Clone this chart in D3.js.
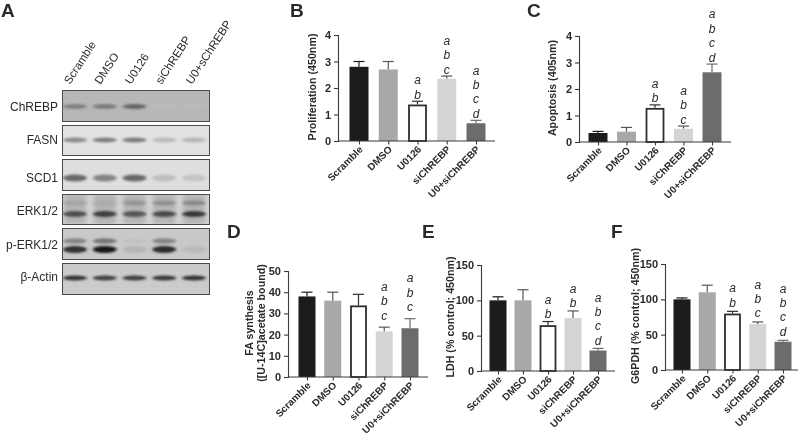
<!DOCTYPE html>
<html><head><meta charset="utf-8">
<script src="https://cdn.jsdelivr.net/npm/d3@7"></script>
<style>
html,body{margin:0;padding:0;background:#fff}
svg{display:block;filter:blur(0.45px)}
text{font-family:"Liberation Sans",Arial,sans-serif;fill:#2a2a2a}
</style></head><body><svg id="c" width="800" height="435"></svg>
<script>
const categories=["Scramble","DMSO","U0126","siChREBP","U0+siChREBP"];
const barColors=["#1c1b1d","#a8a8a8","#ffffff","#d4d4d4","#6c6c6c"];

const bValues=[2.8,2.7,1.38,2.35,0.67], bErrors=[0.2,0.3,0.12,0.1,0.11], bLetters=["","","ab","abc","abcd"];
const cValues=[0.34,0.39,1.29,0.5,2.63], cErrors=[0.06,0.16,0.11,0.1,0.31], cLetters=["","","ab","abc","abcd"];
const dValues=[38,36,33.8,21.5,23], dErrors=[2,4,5.2,2,4.5], dLetters=["","","","abc","abc"];
const eValues=[100,100,65,75,29], eErrors=[5,15,5,10,3], eLetters=["","","ab","ab","abcd"];
const fValues=[100,110,80,65,40], fErrors=[2,10,3,3,2], fLetters=["","","ab","abc","abcd"];

const bTicks=[0,1,2,3,4], cTicks=[0,1,2,3,4], dTicks=[0,10,20,30,40,50], eTicks=[0,50,100,150], fTicks=[0,50,100,150];

const blotLanes=["Scramble","DMSO","U0126","siChREBP","U0+sChREBP"];
const chrebpBand=[0.55,0.58,0.68,0.08,0.08];
const fasnBand=[0.55,0.6,0.62,0.3,0.32];
const scd1Band=[0.7,0.58,0.7,0.25,0.2];
const erkUpperBand=[0.3,0.25,0.42,0.45,0.5];
const erkLowerBand=[0.78,0.85,0.75,0.8,0.88];
const perkUpperBand=[0.55,0.62,0.12,0.55,0.05];
const perkLowerBand=[0.9,1,0.25,0.92,0.2];
const actinBand=[0.9,0.85,0.85,0.88,0.9];

const svg=d3.select("#c");
const defs=svg.append("defs");
defs.append("filter").attr("id","bl").attr("x","-30%").attr("y","-100%").attr("width","160%").attr("height","300%")
  .append("feGaussianBlur").attr("stdDeviation","1.5 1.2");
defs.append("filter").attr("id","smear").attr("x","-30%").attr("y","-30%").attr("width","160%").attr("height","160%")
  .append("feGaussianBlur").attr("stdDeviation","2 2");

/* ---------- blot ---------- */
const blotX=d3.scalePoint().domain(blotLanes).range([75,194]);
const labelX=d3.scalePoint().domain(blotLanes).range([70,192]);
const blotPanels=[
 {name:"ChREBP",top:90,bot:121,bg:"#b7b7b7",label:111,bands:[{v:chrebpBand,y:106.5,h:2.6}]},
 {name:"FASN",top:125,bot:155,bg:"#e2e2e2",label:144,bands:[{v:fasnBand,y:140,h:2.6}]},
 {name:"SCD1",top:159,bot:190,bg:"#dedede",label:182,bands:[{v:scd1Band,y:178,h:3.4}]},
 {name:"ERK1/2",top:194,bot:224,bg:"#d2d2d2",label:215,smear:true,bands:[{v:erkUpperBand,y:203,h:2.4},{v:erkLowerBand,y:214,h:3}]},
 {name:"p-ERK1/2",top:228,bot:259,bg:"#c9c9c9",label:249,bands:[{v:perkUpperBand,y:241,h:2.8},{v:perkLowerBand,y:249.5,h:3.4}]},
 {name:"β-Actin",top:263,bot:294,bg:"#cbcbcb",label:281,bands:[{v:actinBand,y:278,h:2.4}]}
];
const dark=d3.scaleLinear().domain([0,1]).range(["#d0d0d0","#141414"]);
blotPanels.forEach(p=>{
  const g=svg.append("g");
  g.append("rect").attr("x",62.5).attr("y",p.top+.5).attr("width",147).attr("height",p.bot-p.top)
    .attr("fill",p.bg).attr("stroke","#4a4a4a").attr("stroke-width",1);
  const clip="clip"+p.top;
  defs.append("clipPath").attr("id",clip).append("rect").attr("x",63).attr("y",p.top+1).attr("width",146).attr("height",p.bot-p.top-1);
  const inner=g.append("g").attr("clip-path",`url(#${clip})`);
  if(p.smear){
    inner.append("g").attr("filter","url(#smear)").selectAll("rect").data(blotLanes).join("rect")
      .attr("x",d=>blotX(d)-11).attr("y",p.top).attr("width",22).attr("height",p.bot-p.top)
      .attr("fill","#b4b4b4");
  }
  p.bands.forEach(b=>{
    inner.append("g").attr("filter","url(#bl)").selectAll("ellipse").data(blotLanes).join("ellipse")
      .attr("cx",d=>blotX(d)).attr("cy",b.y)
      .attr("rx",12).attr("ry",b.h)
      .attr("fill",(d,i)=>dark(b.v[i]))
      .attr("fill-opacity",(d,i)=>0.35+0.65*b.v[i]);
  });
  g.append("text").attr("x",58).attr("y",p.label).attr("text-anchor","end")
    .attr("font-size",12).text(p.name);
});
svg.selectAll(".lane").data(blotLanes).join("text").attr("class","lane")
  .attr("font-size",11.5).attr("text-anchor","start")
  .attr("transform",d=>`translate(${labelX(d)},85) rotate(-57)`).text(d=>d);

/* ---------- bar panels ---------- */
const panels=[
 {v:bValues,e:bErrors,l:bLetters,t:bTicks,max:4,ax:338,top:35,bot:141,x0:359,x1:476,end:495,w:19,gap:6,title:["Proliferation (450nm)"],tx:316},
 {v:cValues,e:cErrors,l:cLetters,t:cTicks,max:4,ax:579,top:36,bot:142,x0:598,x1:712,end:731,w:19,gap:6,title:["Apoptosis (405nm)"],tx:556},
 {v:dValues,e:dErrors,l:dLetters,t:dTicks,max:50,ax:288,top:271,bot:377,x0:307,x1:410,end:428,w:17,gap:11,title:["FA synthesis","([U-14C]acetate bound)"],tx:253},
 {v:eValues,e:eErrors,l:eLetters,t:eTicks,max:150,ax:481,top:265,bot:371,x0:498,x1:598,end:615,w:17,gap:7,title:["LDH (% control; 450nm)"],tx:454},
 {v:fValues,e:fErrors,l:fLetters,t:fTicks,max:150,ax:665,top:264,bot:370,x0:682,x1:783,end:798,w:17,gap:8,title:["G6PDH (% control; 450nm)"],tx:639}
];
const axisColor="#3a3a3a";
panels.forEach(p=>{
  const g=svg.append("g");
  const y=d3.scaleLinear().domain([0,p.max]).range([p.bot,p.top]);
  const x=d3.scalePoint().domain(categories).range([p.x0,p.x1]);
  categories.forEach((c,i)=>{
    const cx=x(c), yTop=y(p.v[i]), yErr=y(p.v[i]+p.e[i]);
    const col=(i===1||i===3)?"#555":(i===2?"#2e2e2e":barColors[i]);
    g.append("line").attr("x1",cx).attr("x2",cx).attr("y1",yTop).attr("y2",yErr).attr("stroke",col).attr("stroke-width",1.2);
    g.append("line").attr("x1",cx-5.5).attr("x2",cx+5.5).attr("y1",yErr).attr("y2",yErr).attr("stroke",col).attr("stroke-width",1.2);
    const inset=i===2?1:0;
    g.append("rect").attr("x",cx-p.w/2+inset).attr("y",yTop+inset).attr("width",p.w-2*inset).attr("height",p.bot-yTop-inset)
      .attr("fill",barColors[i]).attr("stroke",i===2?"#2e2e2e":"none").attr("stroke-width",i===2?1.8:0);
    const ls=p.l[i].split("");
    ls.forEach((ch,k)=>{
      g.append("text").attr("x",cx).attr("y",yErr-p.gap-(ls.length-1-k)*14.4+3.5)
        .attr("text-anchor","middle").attr("font-size",12).attr("font-style","italic").attr("fill","#3c3c3c").text(ch);
    });
  });
  const ya=d3.axisLeft(y).tickValues(p.t).tickSize(4).tickPadding(3).tickFormat(d3.format("d"));
  const yg=g.append("g").attr("transform",`translate(${p.ax},0)`).call(ya);
  yg.select(".domain").attr("stroke",axisColor).attr("stroke-width",1.1);
  yg.selectAll("line").attr("stroke",axisColor).attr("stroke-width",1.1);
  yg.selectAll("text").attr("font-size",11).attr("font-weight","bold").attr("font-family","Liberation Sans");
  const xa=d3.axisBottom(x).tickSize(3.5).tickPadding(3);
  const xg=g.append("g").attr("transform",`translate(0,${p.bot})`).call(xa);
  xg.select(".domain").attr("d",`M${p.ax},0H${p.end}`).attr("stroke",axisColor).attr("stroke-width",1.1);
  xg.selectAll("line").attr("stroke",axisColor).attr("stroke-width",1.1);
  xg.selectAll("text").attr("font-size",10).attr("font-weight","bold").attr("font-family","Liberation Sans")
    .attr("text-anchor","end").attr("dy",0).attr("y",0).attr("x",0)
    .attr("transform","translate(4,9) rotate(-45)");
  p.title.forEach((t,i)=>{
    g.append("text").attr("transform",`translate(${p.tx+i*11.5},${(p.top+p.bot)/2-1}) rotate(-90)`)
      .attr("text-anchor","middle").attr("font-size",10.7).attr("font-weight","bold").text(t);
  });
});

/* ---------- panel letters ---------- */
const panelLetters=["A","B","C","D","E","F"];
const letterPos=[[1,17],[290,17],[527,17],[227,238],[422,238],[611,238]];
svg.selectAll(".pl").data(panelLetters).join("text").attr("class","pl")
  .attr("x",(d,i)=>letterPos[i][0]).attr("y",(d,i)=>letterPos[i][1])
  .attr("font-size",19).attr("font-weight","bold").attr("font-family","Liberation Sans").text(d=>d);
</script></body></html>
